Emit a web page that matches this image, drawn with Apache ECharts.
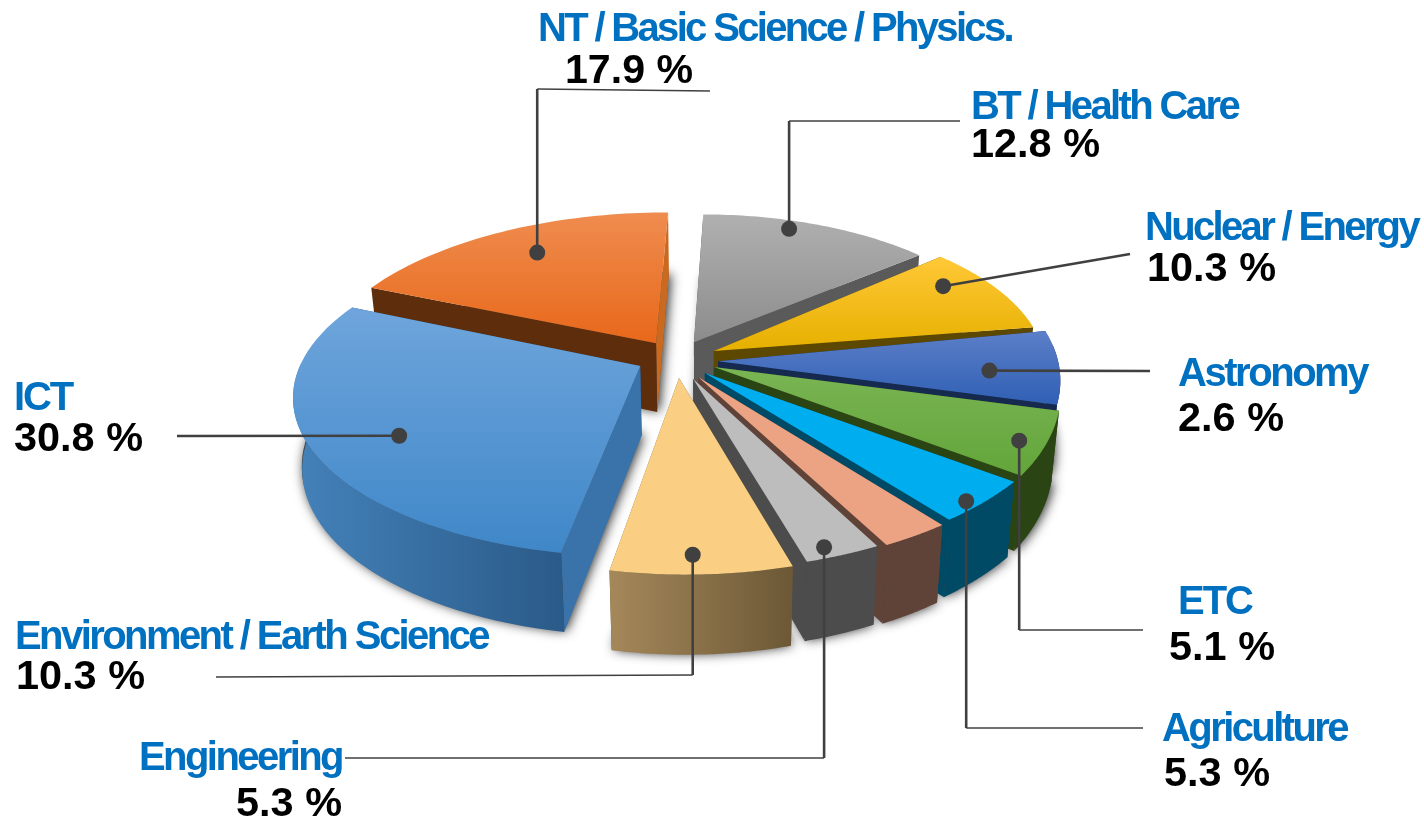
<!DOCTYPE html>
<html>
<head>
<meta charset="utf-8">
<style>
  html, body { margin: 0; padding: 0; background: #fff; }
  #main { width: 1424px; height: 823px; }
</style>
<script src="https://cdn.jsdelivr.net/npm/echarts@6/dist/echarts.min.js"></script>
</head>
<body>
<div id="main"></div>
<script>
// slices clockwise from 12 o'clock, the sixth one has no label in the picture
var sliceNames = ['BT / Health Care', 'Nuclear / Energy', 'Astronomy', 'ETC', 'Agriculture', '', 'Engineering', 'Environment / Earth Science', 'ICT', 'NT / Basic Science / Physics.'];
// share of the circle each slice really covers in the picture
var sliceShares = [12.8, 9.4, 6.9, 6.4, 4.2, 2.8, 3.1, 7.5, 29.4, 17.5];
// percentage printed next to it (not the same thing)
var printedShares = [12.8, 10.3, 2.6, 5.1, 5.3, null, 5.3, 10.3, 30.8, 17.9];

// back to front
var drawOrder = [9, 0, 1, 2, 3, 4, 5, 6, 8, 7];

// projection of the tilted disc, the wall bottoms pull in a little towards the middle
var cx = 708, cy = 368, A = 350, B = 172, persp = 0.12, wall = 70, wallPinch = 0.022;

// where each slice's tip sits, in disc units
var tips = [[-0.041, -0.153], [0.017, -0.1], [0.029, -0.04], [0.017, -0.006], [-0.009, 0.029], [-0.028, 0.052], [-0.042, 0.064], [-0.082, 0.058], [-0.194, -0.012], [-0.151, -0.147]];
// rim of each slice: offset x, offset z, radius x, radius z
var rims = [[-0.015, -0.06, 0.93, 0.94], [0.08, -0.09, 0.89, 0.88], [0.005, -0.046, 1, 1], [0.2, 0, 0.8, 0.95], [0.02, 0, 1, 1], [0, 0.025, 1, 1], [-0.024, 0.03, 1, 1], [-0.056, 0.05, 0.985, 1], [-0.18, 0.05, 0.99, 0.92], [-0.128, -0.06, 1, 0.955]];

// top gradient (light, dark), outer wall (left, right), wall at start edge, wall at end edge
var looks = [
  { top: ['#b0b0b0', '#8c8c8c'], outer: ['#5c5c5c', '#5c5c5c'], a: '#555555', b: '#5a5a5a' },
  { top: ['#ffc837', '#e6b000'], outer: ['#5c4800', '#5c4800'], a: '#5c4800', b: '#5c4800' },
  { top: ['#5c7fc8', '#2f5fb4'], outer: ['#16294f', '#16294f'], a: '#16294f', b: '#16294f' },
  { top: ['#7ab554', '#63a53a'], outer: ['#2b4413', '#2b4413'], a: '#2b4413', b: '#2b4413' },
  { top: ['#00aeef', '#00aeef'], outer: ['#004a66', '#004a66'], a: '#004a66', b: '#004a66' },
  { top: ['#eba384', '#eba384'], outer: ['#5f4338', '#5f4338'], a: '#5f4338', b: '#5f4338' },
  { top: ['#bdbdbd', '#bdbdbd'], outer: ['#4c4c4c', '#4c4c4c'], a: '#4c4c4c', b: '#4c4c4c' },
  { top: ['#facf83', '#facf83'], outer: ['#a5885a', '#6c5836'], a: '#6c5836', b: '#6c5836' },
  { top: ['#6fa5dc', '#3f87c8'], outer: ['#4482ba', '#2a5a88'], a: '#3a72aa', b: '#2a5a88' },
  { top: ['#ef8c4f', '#e8681a'], outer: ['#5e2d0c', '#5e2d0c'], a: '#5e2d0c', b: '#c96a20' }
];

// dot on the slice: fraction across the slice, fraction along the radius
var dotSpots = [[0.4, 0.93], [0.32, 0.86], [0.58, 0.795], [0.54, 0.927], [0.62, 0.965], null, [0.657, 0.95], [0.54, 0.91], [0.47, 0.762], [0.52, 0.79]];
// leader routes after the dot, a null x keeps the dot's x
var leaderRoutes = [
  [[null, 121], [960, 121]],
  [[1130, 254]],
  [[1150, 371]],
  [[null, 630], [1143, 630]],
  [[null, 728], [1143, 728]],
  null,
  [[null, 758], [345, 758]],
  [[null, 675], [216, 677]],
  [[177, 436]],
  [[null, 89], [710, 91]]
];
// name: left, right, baseline; then percent: left, right, baseline
var labelBoxes = [
  [971, 1238, 120, 971, 1100, 158],
  [1145, 1418, 241, 1147, 1276, 282],
  [1178, 1367, 387, 1178, 1284, 432],
  [1178, 1252, 615, 1169, 1275, 661],
  [1162, 1347, 742, 1164, 1270, 787],
  null,
  [139, 342, 771, 236, 342, 817],
  [15, 488, 650, 16, 145, 690],
  [14, 72, 411, 14, 143, 452],
  [538, 1012, 42, 565, 693, 84]
];

var total = sliceShares.reduce(function (s, v) { return s + v; }, 0);
var cumStart = [], running = 0;
sliceShares.forEach(function (v) { cumStart.push(running); running += v; });

function toAngle(share) {
  return echarts.number.linearMap(share, [0, total], [0, Math.PI * 2]);
}
function project(x, z, h) {
  var s = 1 / (1 - persp * z);
  return [cx + A * x * s * (1 - wallPinch * h / wall), cy + B * z * s + h * s];
}
function rimAt(i, t) {
  var r = rims[i];
  return [r[0] + r[2] * Math.sin(t), r[1] - r[3] * Math.cos(t)];
}
function rimPoints(i, t0, t1) {
  var pts = [];
  for (var k = 0; k <= 48; k++) {
    pts.push(rimAt(i, t0 + (t1 - t0) * k / 48));
  }
  return pts;
}
function vGrad(c) {
  return new echarts.graphic.LinearGradient(0, 0, 0, 1, [{ offset: 0, color: c[0] }, { offset: 1, color: c[1] }]);
}
function hGrad(c) {
  return new echarts.graphic.LinearGradient(0, 0, 1, 0, [{ offset: 0, color: c[0] }, { offset: 1, color: c[1] }]);
}
function poly(pts, h, fill) {
  return { type: 'polygon', silent: true, shape: { points: pts.map(function (p) { return project(p[0], p[1], h); }) }, style: { fill: fill } };
}
function wallQuad(a, b, fill) {
  return {
    type: 'polygon', silent: true,
    shape: { points: [project(a[0], a[1], 0), project(b[0], b[1], 0), project(b[0], b[1], wall), project(a[0], a[1], wall)] },
    style: { fill: fill }
  };
}
function outerWall(arc, fill) {
  var pts = arc.map(function (p) { return project(p[0], p[1], 0); });
  var low = arc.slice().reverse().map(function (p) { return project(p[0], p[1], wall); });
  return { type: 'polygon', silent: true, shape: { points: pts.concat(low) }, style: { fill: fill } };
}

// soft shadow under the whole solid, only ever lands on the white page
function renderShadow(params, api) {
  var i = api.value(0);
  var t0 = toAngle(api.value(1)), t1 = toAngle(api.value(1) + api.value(2));
  var arc = rimPoints(i, t0, t1);
  var pts = [tips[i]].concat(arc).map(function (p) { return project(p[0], p[1], wall * 0.96); });
  return {
    type: 'polygon', silent: true, shape: { points: pts },
    style: { fill: '#444', shadowBlur: 12, shadowColor: 'rgba(0,0,0,0.85)', shadowOffsetX: 2, shadowOffsetY: 2 }
  };
}

function renderSlice(params, api) {
  var i = api.value(0);
  var t0 = toAngle(api.value(1)), t1 = toAngle(api.value(1) + api.value(2));
  var arc = rimPoints(i, t0, t1);
  var look = looks[i];
  var first = arc[0], last = arc[arc.length - 1];
  // the edge wall nearer the viewer goes on top of the other one
  var walls = first[1] > last[1]
    ? [wallQuad(tips[i], last, look.b), wallQuad(tips[i], first, look.a)]
    : [wallQuad(tips[i], first, look.a), wallQuad(tips[i], last, look.b)];
  // only the part of the rim that faces us gets a wall
  var front = arc.filter(function (p, k) {
    return Math.cos(t0 + (t1 - t0) * k / 48) < 0.1;
  });
  var kids = walls;
  if (front.length > 1) {
    kids = kids.concat([outerWall(front, hGrad(look.outer))]);
  }
  kids.push(poly([tips[i]].concat(arc), 0, vGrad(look.top)));
  return { type: 'group', children: kids };
}

function dotPoint(i) {
  var spot = dotSpots[i];
  var t = toAngle(cumStart[i] + sliceShares[i] * spot[0]);
  var rim = rimAt(i, t);
  var tip = tips[i];
  return project(tip[0] + (rim[0] - tip[0]) * spot[1], tip[1] + (rim[1] - tip[1]) * spot[1], 0);
}

// the category names are set very tight in the picture, zrender has no letter spacing so do it here
var textSpacing = {};
var plainFillText = CanvasRenderingContext2D.prototype.fillText;
CanvasRenderingContext2D.prototype.fillText = function (text, x, y) {
  this.letterSpacing = textSpacing[text] || '0px';
  plainFillText.call(this, text, x, y);
  this.letterSpacing = '0px';
};

var labelFont = 'bold 40px "Liberation Sans", Arial, sans-serif';
var measure = document.createElement('canvas').getContext('2d');
measure.font = labelFont;

function nameText(text, left, right, base) {
  textSpacing[text] = ((right - left - measure.measureText(text).width) / text.length).toFixed(2) + 'px';
  return {
    type: 'text', silent: true, x: left, y: base - 32,
    style: { text: text, font: labelFont, fill: '#0070c0' }
  };
}
function percentText(text, left, right, base) {
  return {
    type: 'text', silent: true, x: left, y: base - 32, scaleX: (right - left) / measure.measureText(text).width,
    style: { text: text, font: labelFont, fill: '#000000' }
  };
}
function leg(a, b, width) {
  return { type: 'line', silent: true, shape: { x1: a[0], y1: a[1], x2: b[0], y2: b[1] }, style: { stroke: '#404040', lineWidth: width } };
}

function renderLabel(params, api) {
  var i = api.value(0);
  if (!dotSpots[i]) {
    return null;
  }
  var dot = dotPoint(i);
  var pts = [dot].concat(leaderRoutes[i].map(function (p) { return [p[0] === null ? dot[0] : p[0], p[1]]; }));
  var box = labelBoxes[i];
  var kids = [leg(pts[0], pts[1], 2.6)];
  if (pts[2]) {
    kids.push(leg(pts[1], pts[2], 1.5));
  }
  kids.push({ type: 'circle', silent: true, shape: { cx: dot[0], cy: dot[1], r: 8 }, style: { fill: '#404040' } });
  kids.push(nameText(sliceNames[i], box[0], box[1], box[2]));
  kids.push(percentText(printedShares[i].toFixed(1) + ' %', box[3], box[4], box[5]));
  return { type: 'group', children: kids };
}

var rows = drawOrder.map(function (i) { return [i, cumStart[i], sliceShares[i]]; });

var chart = echarts.init(document.getElementById('main'));
chart.setOption({
  backgroundColor: '#ffffff',
  animation: false,
  series: [
    { type: 'custom', coordinateSystem: 'none', z: 1, silent: true, renderItem: renderShadow, data: rows },
    { type: 'custom', coordinateSystem: 'none', z: 2, silent: true, renderItem: renderSlice, data: rows },
    { type: 'custom', coordinateSystem: 'none', z: 3, silent: true, renderItem: renderLabel, data: rows }
  ]
});

window.addEventListener('resize', function () {
  chart.resize();
});
</script>
</body>
</html>
